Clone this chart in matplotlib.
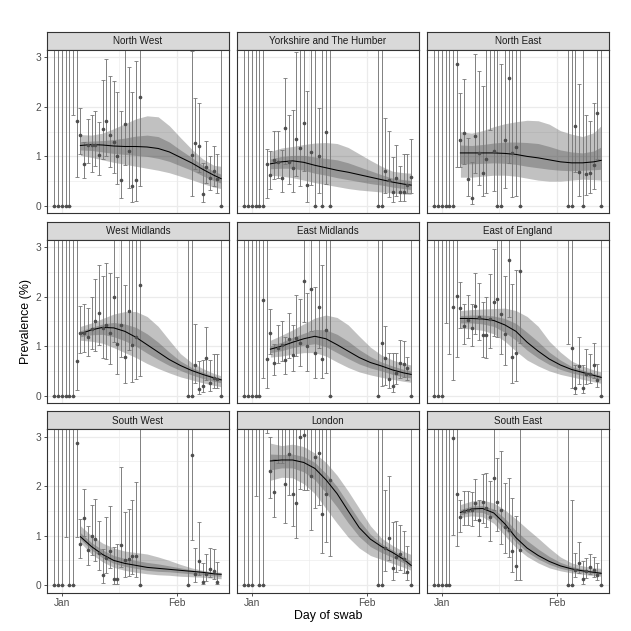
import numpy as np
import matplotlib
matplotlib.use("Agg")
import matplotlib.pyplot as plt

plt.rcParams['font.family'] = ['Liberation Sans', 'DejaVu Sans']

na = np.nan
TOP = 9.9  # error bar runs off the top of the panel

# swab days, counted from 1 January (0 = Jan 1, 31 = Feb 1)
days = list(range(-2, 22)) + list(range(34, 44))
fit_days = [5, 8, 11, 14, 17, 20, 23, 26, 29, 32, 35, 38, 41, 43]

regions = ["North West", "Yorkshire and The Humber", "North East",
            "West Midlands", "East Midlands", "East of England",
            "South West", "London", "South East"]

# ---- North West
nw_val = [0, 0, 0, 0, 0, na, 1.72,
          1.43, 0.85, 1.23, 1.24, 1.24, 1.03, 1.56, 1.72, 1.43, 1.29, 1.0, 0.52, 1.66, 1.1, 0.41, 0.52, 2.21,
          na, 1.03, 1.28, 1.21, 0.23, 0.79, 0.56, 0.7, 0.54, 0]
nw_lo = [0, 0, 0, 0, 0, 1.84, 0.59,
         1.04, 0.56, 0.87, 0.68, 0.8, 0.62, 0.95, 1.0, 0.78, 0.67, 0.44, 0.15, 0.82, 0.36, 0.08, 0.1, 0.4,
         na, 0.19, 0.75, 0.68, 0.08, 0.47, 0.32, 0.4, 0.27, 0]
nw_hi = [TOP, TOP, TOP, TOP, TOP, TOP, TOP,
         1.97, 1.3, 1.76, 1.84, 1.92, 1.7, 2.55, 2.97, 2.62, 2.53, 2.3, 1.91, TOP, 2.8, 2.3, 2.93, TOP,
         na, 3.12, 2.17, 2.08, 0.87, 1.31, 1.0, 1.22, 1.04, TOP]
nw_mid = [1.22, 1.24, 1.23, 1.21, 1.2, 1.2, 1.19, 1.16, 1.09, 0.98, 0.87, 0.74, 0.62, 0.55]
nw_in_lo = [1.13, 1.12, 1.09, 1.06, 1.04, 1.02, 1.0, 0.96, 0.9, 0.81, 0.72, 0.61, 0.51, 0.46]
nw_in_hi = [1.3, 1.31, 1.32, 1.34, 1.37, 1.41, 1.43, 1.4, 1.29, 1.13, 0.98, 0.82, 0.7, 0.64]
nw_out_lo = [1.02, 0.98, 0.93, 0.88, 0.84, 0.8, 0.76, 0.72, 0.67, 0.6, 0.53, 0.45, 0.38, 0.35]
nw_out_hi = [1.44, 1.43, 1.47, 1.56, 1.66, 1.76, 1.82, 1.8, 1.62, 1.38, 1.15, 0.95, 0.82, 0.8]

# ---- Yorkshire and The Humber
yh_val = [0, 0, 0, 0, 0, 0, 0.85,
          0.63, 0.93, 0.89, 0.56, 1.58, 0.89, 0.76, 1.36, 1.16, 1.68, 0.42, 1.09, 0, 1.0, 0, 1.5, 0,
          0, 0, 0.7, 0.52, 0.28, 0.56, 0.28, 0.28, 0.42, 0.58]
yh_lo = [0, 0, 0, 0, 0, 0, 0.15,
         0.35, 0.55, 0.57, 0.28, 0.85, 0.44, 0.29, 0.6, 0.4, 0.7, 0.08, 0.43, 0, 0.27, 0, 0.45, 0,
         0, 0, 0.27, 0.18, 0.08, 0.2, 0.09, 0.09, 0.26, 0.26]
yh_hi = [TOP, TOP, TOP, TOP, TOP, TOP, 1.15,
         1.11, 1.52, 1.52, 1.13, 2.58, 1.83, 1.93, 3.1, TOP, TOP, 2.32, TOP, TOP, 1.98, TOP, TOP, TOP,
         TOP, TOP, 1.78, 1.51, 0.99, 1.23, 0.8, 1.04, 1.04, 1.36]
yh_mid = [0.85, 0.89, 0.91, 0.88, 0.82, 0.77, 0.72, 0.68, 0.63, 0.58, 0.53, 0.48, 0.44, 0.42]
yh_in_lo = [0.75, 0.76, 0.76, 0.72, 0.66, 0.62, 0.57, 0.53, 0.49, 0.45, 0.42, 0.38, 0.35, 0.33]
yh_in_hi = [0.95, 1.0, 1.02, 1.02, 0.99, 0.96, 0.93, 0.87, 0.79, 0.71, 0.63, 0.56, 0.53, 0.51]
yh_out_lo = [0.62, 0.6, 0.57, 0.52, 0.47, 0.43, 0.39, 0.35, 0.32, 0.3, 0.28, 0.26, 0.24, 0.23]
yh_out_hi = [1.1, 1.17, 1.2, 1.24, 1.27, 1.28, 1.26, 1.18, 1.05, 0.92, 0.8, 0.7, 0.67, 0.66]

# ---- North East
ne_val = [0, 0, 0, 0, 0, 0, 2.87,
          1.34, 1.48, 0.54, 0.15, 1.42, 1.07, 0.67, 0.94, na, 1.11, 0, 0, 1.34, 2.58, 1.06, 1.19, 0,
          0, 0, 1.61, 0.69, 0, 0.64, 0.67, 0.83, 1.87, 0]
ne_lo = [0, 0, 0, 0, 0, 0, 0.79,
         0.79, 0.85, 0.2, 0.03, 0.67, 0.42, 0.19, 0.27, 1.53, 0.3, 0, 0, 0.37, 0.87, 0.18, 0.2, 0,
         0, 0, 0.68, 0.19, 0, 0.21, 0.27, 0.34, 0.95, 0]
ne_hi = [TOP, TOP, TOP, TOP, TOP, TOP, TOP,
         2.28, 2.56, 1.38, 0.89, 3.07, 2.72, 2.42, TOP, TOP, TOP, TOP, 2.86, TOP, TOP, TOP, TOP, TOP,
         TOP, TOP, TOP, 2.46, TOP, 1.83, 1.71, 2.07, TOP, TOP]
ne_mid = [1.07, 1.07, 1.07, 1.07, 1.06, 1.04, 1.0, 0.97, 0.93, 0.89, 0.87, 0.87, 0.89, 0.92]
ne_in_lo = [0.85, 0.85, 0.86, 0.87, 0.86, 0.84, 0.8, 0.77, 0.74, 0.72, 0.71, 0.72, 0.73, 0.74]
ne_in_hi = [1.23, 1.22, 1.24, 1.27, 1.29, 1.29, 1.28, 1.26, 1.2, 1.13, 1.09, 1.07, 1.11, 1.19]
ne_out_lo = [0.58, 0.58, 0.6, 0.62, 0.62, 0.6, 0.56, 0.52, 0.5, 0.5, 0.52, 0.54, 0.53, 0.52]
ne_out_hi = [1.5, 1.47, 1.52, 1.6, 1.66, 1.7, 1.73, 1.72, 1.65, 1.52, 1.45, 1.4, 1.48, 1.62]

# ---- West Midlands
wm_val = [0, 0, 0, 0, 0, 0, 0.71,
          1.26, 1.26, 1.19, 1.35, 1.5, 1.67, 1.36, 1.42, 1.26, 1.99, 1.04, 1.43, 0.78, 1.71, 1.02, 1.19, 2.23,
          0, 0, 0.62, 0.13, 0.2, 0.77, 0.26, 0.35, 0.33, 0]
wm_lo = [0, 0, 0, 0, 0, 0, 0.11,
         0.86, 0.89, 0.81, 0.94, 0.9, 1.02, 0.77, 0.74, 0.65, 1.09, 0.44, 0.79, 0.25, 0.92, 0.28, 0.33, 0.4,
         0, 0, 0.25, 0.03, 0.08, 0.32, 0.1, 0.15, 0.15, 0]
wm_hi = [TOP, TOP, TOP, TOP, TOP, TOP, TOP,
         1.81, 1.85, 1.78, 1.99, 2.36, 2.64, 2.41, 2.68, 2.47, TOP, 2.39, TOP, 2.24, TOP, TOP, TOP, TOP,
         TOP, TOP, 1.44, 0.7, 0.72, 1.38, 0.72, 0.84, 0.84, TOP]
wm_mid = [1.25, 1.33, 1.38, 1.37, 1.3, 1.18, 1.03, 0.88, 0.73, 0.61, 0.51, 0.43, 0.36, 0.32]
wm_in_lo = [1.19, 1.23, 1.24, 1.19, 1.11, 1.0, 0.86, 0.73, 0.61, 0.51, 0.42, 0.35, 0.29, 0.26]
wm_in_hi = [1.31, 1.38, 1.45, 1.48, 1.45, 1.38, 1.25, 1.08, 0.88, 0.7, 0.57, 0.48, 0.39, 0.35]
wm_out_lo = [1.12, 1.1, 1.06, 0.97, 0.87, 0.77, 0.65, 0.55, 0.46, 0.38, 0.32, 0.26, 0.21, 0.18]
wm_out_hi = [1.4, 1.47, 1.56, 1.65, 1.7, 1.7, 1.6, 1.4, 1.12, 0.85, 0.67, 0.55, 0.45, 0.4]

# ---- East Midlands
em_val = [0, 0, 0, 0, 0, 1.94, 0.74,
          1.26, 0.67, 0.97, 1.02, 0.73, 1.14, 0.82, 1.17, 1.07, 2.32, 1.0, 2.15, 0.87, 1.8, 0.74, 1.33, 0,
          0, 1.06, 0.76, 0.34, 0.2, 0.45, 0.67, 0.64, 0.55, 0]
em_lo = [0, 0, 0, 0, 0, 0.35, 0.15,
         0.84, 0.42, 0.67, 0.7, 0.44, 0.77, 0.5, 0.8, 0.59, 1.48, 0.49, 1.31, 0.35, 0.97, 0.35, 0.45, 0,
         0, 0.2, 0.22, 0.15, 0.08, 0.23, 0.35, 0.37, 0.32, 0]
em_hi = [TOP, TOP, TOP, TOP, TOP, TOP, TOP,
         1.75, 1.04, 1.42, 1.51, 1.19, 1.68, 1.42, 2.04, 1.96, TOP, 2.07, TOP, 2.2, TOP, 2.64, TOP, TOP,
         TOP, TOP, 1.41, 0.86, 0.86, 0.86, 1.13, 1.11, 0.78, TOP]
em_mid = [0.94, 1.0, 1.08, 1.15, 1.2, 1.15, 1.03, 0.9, 0.77, 0.67, 0.6, 0.52, 0.46, 0.43]
em_in_lo = [0.87, 0.91, 0.97, 1.02, 1.05, 0.99, 0.87, 0.75, 0.64, 0.56, 0.5, 0.43, 0.38, 0.36]
em_in_hi = [1.01, 1.08, 1.18, 1.26, 1.34, 1.33, 1.24, 1.1, 0.93, 0.79, 0.68, 0.6, 0.53, 0.5]
em_out_lo = [0.78, 0.8, 0.84, 0.87, 0.87, 0.8, 0.68, 0.57, 0.48, 0.42, 0.37, 0.33, 0.29, 0.27]
em_out_hi = [1.12, 1.22, 1.33, 1.45, 1.57, 1.63, 1.58, 1.43, 1.2, 0.98, 0.82, 0.72, 0.65, 0.62]

# ---- East of England
ee_val = [0, 0, 0, na, na, 1.8, 2.02,
          1.77, 1.4, 1.53, 1.36, 1.81, 1.6, 1.23, 1.23, 1.54, 1.9, 1.95, 1.65, 1.24, 2.75, 0.78, 0.87, 2.52,
          na, 0.96, 0.16, 0.59, 0.15, 0.44, 0.44, 0.61, 0.32, 0]
ee_lo = [0, 0, 0, 1.46, 0.84, 0.32, 0.78,
         1.36, 1.05, 1.16, 1.0, 1.25, 1.13, 0.78, 0.76, 0.97, 1.21, 1.19, 0.84, 0.63, 1.58, 0.26, 0.3, 1.06,
         1.05, 0.15, 0.03, 0.23, 0.05, 0.23, 0.25, 0.35, 0.18, 0]
ee_hi = [TOP, TOP, TOP, TOP, TOP, TOP, TOP,
         2.29, 1.85, 2.04, 1.85, 2.48, 2.27, 1.9, 1.99, 2.45, 2.97, TOP, TOP, 2.42, TOP, 2.26, 2.54, TOP,
         TOP, TOP, 0.62, 1.18, 0.62, 0.94, 0.84, 1.06, 0.65, TOP]
ee_mid = [1.56, 1.56, 1.55, 1.52, 1.43, 1.3, 1.08, 0.9, 0.74, 0.62, 0.53, 0.47, 0.41, 0.37]
ee_in_lo = [1.47, 1.47, 1.45, 1.4, 1.28, 1.12, 0.92, 0.76, 0.63, 0.53, 0.46, 0.41, 0.35, 0.32]
ee_in_hi = [1.62, 1.63, 1.63, 1.61, 1.56, 1.46, 1.28, 1.09, 0.88, 0.72, 0.59, 0.52, 0.45, 0.41]
ee_out_lo = [1.36, 1.35, 1.32, 1.25, 1.1, 0.9, 0.72, 0.6, 0.5, 0.43, 0.38, 0.33, 0.28, 0.25]
ee_out_hi = [1.72, 1.74, 1.75, 1.76, 1.77, 1.72, 1.6, 1.4, 1.1, 0.88, 0.7, 0.6, 0.52, 0.48]

# ---- South West
sw_val = [0, 0, 0, na, 0, 0, 2.87,
          0.84, 1.35, 0.71, 1.0, 0.93, 0.65, 0.2, 0.55, 0.69, 0.13, 0.13, 0.82, 0.51, 0.52, 0.59, 0.59, 0,
          0, 2.64, 0.22, 0.49, 0.07, 0.22, 0.32, 0.29, 0.07, na]
sw_lo = [0, 0, 0, 0.98, 0, 0, 0.98,
         0.54, 0.99, 0.4, 0.61, 0.49, 0.3, 0.05, 0.24, 0.34, 0.03, 0.03, 0.36, 0.17, 0.19, 0.22, 0.17, 0,
         0, 0.91, 0.07, 0.2, 0.02, 0.08, 0.17, 0.13, 0.02, na]
sw_hi = [TOP, TOP, TOP, TOP, TOP, TOP, TOP,
         1.33, 1.94, 1.19, 1.63, 1.75, 1.29, 0.74, 1.37, 1.6, 0.78, 0.84, 2.38, 1.47, 1.53, 1.73, 2.08, TOP,
         TOP, TOP, 0.76, 1.27, 0.45, 0.62, 0.76, 0.74, 0.47, na]
sw_mid = [0.98, 0.78, 0.62, 0.5, 0.44, 0.4, 0.36, 0.34, 0.32, 0.3, 0.28, 0.26, 0.23, 0.22]
sw_in_lo = [0.93, 0.71, 0.55, 0.44, 0.38, 0.34, 0.3, 0.28, 0.27, 0.25, 0.23, 0.21, 0.19, 0.18]
sw_in_hi = [1.06, 0.86, 0.71, 0.6, 0.54, 0.5, 0.46, 0.43, 0.39, 0.35, 0.31, 0.28, 0.25, 0.24]
sw_out_lo = [0.86, 0.63, 0.47, 0.36, 0.3, 0.26, 0.23, 0.21, 0.2, 0.18, 0.17, 0.16, 0.14, 0.13]
sw_out_hi = [1.2, 1.0, 0.85, 0.75, 0.69, 0.66, 0.63, 0.57, 0.5, 0.42, 0.35, 0.3, 0.27, 0.26]

# ---- London
ld_val = [0, 0, 0, na, 0, 0, na,
          2.3, 1.88, na, na, 2.04, 2.66, 1.85, 1.66, 2.99, 3.03, na, 2.2, 2.59, 2.68, 1.44, 1.84, 2.13,
          0, 0, 0.76, 0.96, 0.34, 0.57, 0.63, 0.52, 0.27, 0]
ld_lo = [0, 0, 0, 1.8, 0, 0, 3.07,
         1.76, 1.37, 2.47, 2.47, 1.26, 1.83, 1.2, 0.95, 1.94, 1.92, 1.93, 1.12, 1.56, 1.63, 0.65, 0.88, 0.58,
         0, 0, 0.29, 0.51, 0.11, 0.27, 0.3, 0.24, 0.1, 0]
ld_hi = [TOP, TOP, TOP, TOP, TOP, TOP, TOP,
         2.99, 2.55, TOP, TOP, TOP, TOP, TOP, TOP, TOP, TOP, TOP, TOP, TOP, TOP, TOP, TOP, TOP,
         TOP, TOP, 1.92, 2.2, 1.28, 1.29, 1.21, 1.09, 0.79, TOP]
ld_mid = [2.51, 2.53, 2.53, 2.48, 2.36, 2.13, 1.85, 1.5, 1.16, 0.93, 0.78, 0.66, 0.52, 0.4]
ld_in_lo = [2.33, 2.37, 2.37, 2.29, 2.13, 1.87, 1.58, 1.26, 0.98, 0.78, 0.66, 0.56, 0.45, 0.35]
ld_in_hi = [2.65, 2.64, 2.65, 2.6, 2.48, 2.26, 1.99, 1.65, 1.31, 1.03, 0.84, 0.71, 0.58, 0.48]
ld_out_lo = [2.12, 2.18, 2.17, 2.05, 1.85, 1.55, 1.25, 0.97, 0.75, 0.6, 0.52, 0.44, 0.36, 0.3]
ld_out_hi = [2.87, 2.82, 2.85, 2.8, 2.67, 2.48, 2.22, 1.9, 1.55, 1.2, 0.95, 0.8, 0.68, 0.62]

# ---- South East
se_val = [0, 0, 0, 0, 0, 2.98, 1.84,
          1.37, 1.5, 1.52, 1.52, 1.67, 1.31, 1.69, 1.55, 1.37, 2.16, 1.69, 1.52, 1.17, 1.11, 0.69, 0.39, 0.71,
          0, 0, 0.3, 0.44, 0.12, 0.29, 0.37, 0.3, 0.2, 0]
se_lo = [0, 0, 0, 0, 0, 1.01, 0.79,
         1.07, 1.21, 1.21, 1.19, 1.31, 0.99, 1.25, 1.18, 0.89, 1.52, 1.09, 0.84, 0.66, 0.57, 0.26, 0.1, 0.11,
         0, 0, 0.16, 0.24, 0.03, 0.15, 0.22, 0.17, 0.11, 0]
se_hi = [TOP, TOP, TOP, TOP, TOP, TOP, TOP,
         1.73, 1.9, 1.91, 1.89, 2.14, 1.73, 2.24, 2.26, 2.11, TOP, 2.58, 2.71, 2.07, 2.16, 1.77, 1.4, TOP,
         TOP, 1.72, 0.65, 0.88, 0.49, 0.54, 0.62, 0.56, 0.44, TOP]
se_mid = [1.47, 1.54, 1.55, 1.46, 1.24, 0.96, 0.75, 0.6, 0.48, 0.39, 0.33, 0.29, 0.26, 0.24]
se_in_lo = [1.42, 1.48, 1.47, 1.37, 1.13, 0.87, 0.67, 0.53, 0.42, 0.34, 0.29, 0.26, 0.23, 0.21]
se_in_hi = [1.53, 1.6, 1.61, 1.54, 1.35, 1.1, 0.9, 0.73, 0.58, 0.46, 0.38, 0.33, 0.29, 0.28]
se_out_lo = [1.37, 1.4, 1.38, 1.25, 1.0, 0.76, 0.58, 0.45, 0.35, 0.29, 0.25, 0.22, 0.19, 0.18]
se_out_hi = [1.63, 1.7, 1.72, 1.66, 1.52, 1.34, 1.14, 0.95, 0.75, 0.57, 0.45, 0.39, 0.35, 0.34]

points = [(nw_val, nw_lo, nw_hi), (yh_val, yh_lo, yh_hi), (ne_val, ne_lo, ne_hi),
          (wm_val, wm_lo, wm_hi), (em_val, em_lo, em_hi), (ee_val, ee_lo, ee_hi),
          (sw_val, sw_lo, sw_hi), (ld_val, ld_lo, ld_hi), (se_val, se_lo, se_hi)]
fits = [(nw_mid, nw_in_lo, nw_in_hi, nw_out_lo, nw_out_hi),
        (yh_mid, yh_in_lo, yh_in_hi, yh_out_lo, yh_out_hi),
        (ne_mid, ne_in_lo, ne_in_hi, ne_out_lo, ne_out_hi),
        (wm_mid, wm_in_lo, wm_in_hi, wm_out_lo, wm_out_hi),
        (em_mid, em_in_lo, em_in_hi, em_out_lo, em_out_hi),
        (ee_mid, ee_in_lo, ee_in_hi, ee_out_lo, ee_out_hi),
        (sw_mid, sw_in_lo, sw_in_hi, sw_out_lo, sw_out_hi),
        (ld_mid, ld_in_lo, ld_in_hi, ld_out_lo, ld_out_hi),
        (se_mid, se_in_lo, se_in_hi, se_out_lo, se_out_hi)]

# layout in pixels (figure is 631 x 631)
W = 631.0
col_left = [46.7, 236.7, 426.7]
row_top = [31.7, 221.5, 411.0]
pw, sh, ph = 182.6, 18.3, 163.3

fig = plt.figure(figsize=(6.31, 6.31), dpi=100)
fig.patch.set_facecolor("white")

for i, name in enumerate(regions):
    r, c = divmod(i, 3)
    left, top = col_left[c], row_top[r]

    # strip
    sax = fig.add_axes([left / W, 1 - (top + sh) / W, pw / W, sh / W])
    sax.set_facecolor("#D9D9D9")
    sax.set_xticks([])
    sax.set_yticks([])
    for s in sax.spines.values():
        s.set_color("#333333")
        s.set_linewidth(0.8)
    sax.text(0.5, 0.48, name, ha="center", va="center", fontsize=7.1, color="#1A1A1A",
             transform=sax.transAxes)

    ax = fig.add_axes([left / W, 1 - (top + sh + ph) / W, pw / W, ph / W])
    ax.set_xlim(-4.1, 45.2)
    ax.set_ylim(-0.15, 3.15)
    ax.set_xticks([0, 31])
    ax.set_xticks([15.5], minor=True)
    ax.set_yticks([0, 1, 2, 3])
    ax.set_yticks([0.5, 1.5, 2.5], minor=True)
    ax.grid(which="major", color="#EBEBEB", linewidth=0.9)
    ax.grid(which="minor", color="#EBEBEB", linewidth=0.45)
    ax.set_axisbelow(True)
    for s in ax.spines.values():
        s.set_color("#333333")
        s.set_linewidth(0.8)
    ax.tick_params(which="minor", length=0)
    ax.tick_params(which="major", length=2.5, width=0.6, color="#333333",
                   labelsize=7.3, labelcolor="#4D4D4D", pad=1.5)
    if c == 0:
        ax.set_yticklabels(["0", "1", "2", "3"])
    else:
        ax.tick_params(axis="y", length=0, labelleft=False)
    if r == 2:
        ax.set_xticklabels(["Jan", "Feb"])
    else:
        ax.tick_params(axis="x", length=0, labelbottom=False)

    mid, in_lo, in_hi, out_lo, out_hi = fits[i]
    ax.fill_between(fit_days, out_lo, out_hi, color="#333333", alpha=0.3, linewidth=0, zorder=1)
    ax.fill_between(fit_days, in_lo, in_hi, color="#333333", alpha=0.3, linewidth=0, zorder=1.1)

    val, lo, hi = points[i]
    ax.vlines(days, lo, hi, color="#777777", linewidth=0.65, zorder=2)
    ax.plot(days, lo, "_", color="#777777", markersize=2.4, markeredgewidth=0.6, zorder=2)
    ax.plot(days, hi, "_", color="#777777", markersize=2.4, markeredgewidth=0.6, zorder=2)
    ax.plot(fit_days, mid, color="black", linewidth=0.75, zorder=3)
    ax.plot(days, val, "o", color="#4D4D4D", markersize=2.6, markeredgewidth=0, zorder=4)

fig.text(328 / W, 1 - 616 / W, "Day of swab", ha="center", va="center", fontsize=8.9)
fig.text(26 / W, 1 - 321 / W, "Prevalence (%)", ha="center", va="center", rotation=90, fontsize=8.9)

fig.savefig("out.png", dpi=100, facecolor="white")
